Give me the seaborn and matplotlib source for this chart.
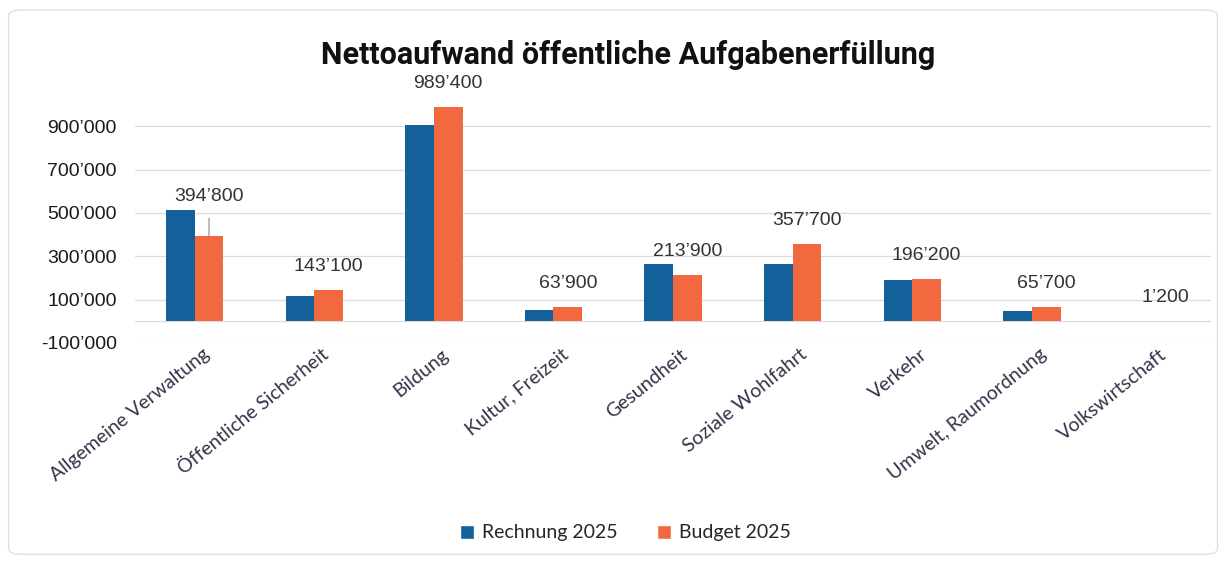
import numpy as np
import pandas as pd
import seaborn as sns
import matplotlib.pyplot as plt
import matplotlib.transforms as mtransforms
from matplotlib.patches import Patch, FancyBboxPatch

# ------------------------------
# data
# ------------------------------
categories = [
    "Allgemeine Verwaltung", "Öffentliche Sicherheit", "Bildung",
    "Kultur, Freizeit", "Gesundheit", "Soziale Wohlfahrt", "Verkehr",
    "Umwelt, Raumordnung", "Volkswirtschaft",
]
rechnung_2025 = [515000, 116000, 905000, 51000, 266000, 266000, 190000, 47000, 0]
budget_2025 = [394800, 143100, 989400, 63900, 213900, 357700, 196200, 65700, 1200]
series = ["Rechnung 2025", "Budget 2025"]
y_ticks = [-100000, 100000, 300000, 500000, 700000, 900000]

df = pd.DataFrame({
    "Kategorie": categories * 2,
    "Serie": [series[0]] * len(categories) + [series[1]] * len(categories),
    "Wert": rechnung_2025 + budget_2025,
})

colors = {"Rechnung 2025": "#14609a", "Budget 2025": "#f2683f"}


def fmt(v):
    return f"{v:,.0f}".replace(",", "\u2019")


sns.set_style("white")

fig = plt.figure(figsize=(12.26, 5.61), dpi=100)
ax = fig.add_axes([0.110, 0.3886, 0.878, 0.425])

sns.barplot(data=df, x="Kategorie", y="Wert", hue="Serie", palette=colors,
            width=0.48, gap=0, saturation=1, legend=False, linewidth=0,
            ax=ax)

ax.set_ylim(-100000, 1000000)
ax.set_xlim(-0.5, len(categories) - 0.5)
ax.set_yticks(y_ticks)
ax.set_yticklabels([fmt(v) for v in y_ticks], fontsize=14,
                   family="Liberation Sans", color="#1a1a1a")
ax.grid(axis="y", color="#dcdcdc", linewidth=0.9)
ax.axhline(0, color="#dcdcdc", linewidth=0.9, zorder=0.5)
ax.set_axisbelow(True)
for s in ax.spines.values():
    s.set_visible(False)
ax.tick_params(length=0, pad=13)
ax.tick_params(axis="x", pad=2)
ax.set_xlabel("")
ax.set_ylabel("")

# rotated category labels
offset = mtransforms.ScaledTranslation(0.07, 0, fig.dpi_scale_trans)
ax.set_xticks(range(len(categories)))
ax.set_xticklabels(categories, rotation=39, ha="right", va="top",
                   rotation_mode="anchor", fontsize=14, family="Lato",
                   color="#33334a")
for lbl in ax.get_xticklabels():
    lbl.set_transform(lbl.get_transform() + offset)

# data labels on the budget bars
budget_bars = ax.containers[1]
for i, (bar, v) in enumerate(zip(budget_bars, budget_2025)):
    xc = bar.get_x() + bar.get_width() / 2
    if i == 0:
        ax.annotate(fmt(v), xy=(xc, v), xytext=(0, 28), textcoords="offset points",
                    ha="center", va="center", fontsize=14, family="Liberation Sans",
                    color="#333333",
                    arrowprops=dict(arrowstyle="-", color="#888888", lw=0.8,
                                    shrinkA=7, shrinkB=0))
    else:
        ax.annotate(fmt(v), xy=(xc, v), xytext=(0, 17), textcoords="offset points",
                    ha="center", va="center", fontsize=14, family="Liberation Sans",
                    color="#333333")

fig.text(0.512, 0.902, "Nettoaufwand öffentliche Aufgabenerfüllung",
         ha="center", va="center", fontsize=22, fontweight="bold",
         family="Roboto", color="#111111")

handles = [Patch(facecolor=colors[s], label=s) for s in series]
fig.legend(handles=handles, loc="center", bbox_to_anchor=(0.51, 0.05), ncol=2,
           frameon=False, prop={"family": "Lato", "size": 14},
           handlelength=0.75, handleheight=0.75, handletextpad=0.4,
           columnspacing=2.0)

fig.patches.append(FancyBboxPatch((0.007, 0.012), 0.986, 0.97,
                                  boxstyle="round,pad=0,rounding_size=0.01",
                                  transform=fig.transFigure, fill=False,
                                  edgecolor="#e0e0e0", linewidth=1.0))

fig.savefig("out.png", dpi=100)
plt.close(fig)
